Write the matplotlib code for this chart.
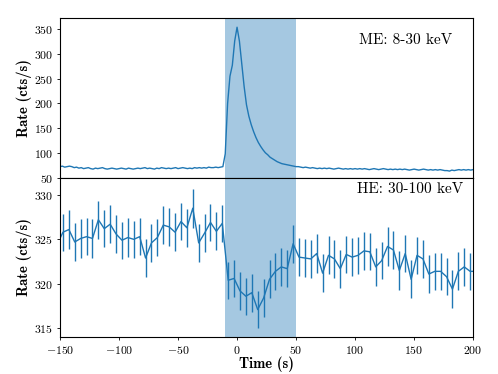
import numpy as np
import matplotlib
matplotlib.use("Agg")
import matplotlib.pyplot as plt

plt.rcParams['font.family'] = 'serif'
plt.rcParams['font.serif'] = ['cmr10']
plt.rcParams['mathtext.fontset'] = 'cm'
plt.rcParams['axes.formatter.use_mathtext'] = True

# ME light curve (8-30 keV), 2 s bins
me_time = np.arange(-150, 201, 2)
me_rate = [72, 73, 71, 72, 73,
           72, 70, 71, 69, 70,
           68, 69, 70, 68, 67,
           69, 68, 69, 70, 68,
           67, 68, 69, 68, 67,
           68, 69, 68, 67, 69,
           68, 67, 68, 69, 68,
           69, 70, 68, 69, 68,
           67, 69, 68, 70, 69,
           68, 69, 68, 69, 70,
           68, 69, 70, 69, 68,
           69, 68, 70, 69, 70,
           69, 70, 69, 71, 70,
           70, 71, 70, 71, 72,
           98, 200, 255, 277, 326,
           354, 326, 280, 234, 197,
           174, 157, 143, 131, 121,
           113, 106, 100, 96, 91,
           88, 85, 82, 80, 78,
           77, 76, 75, 74, 73,
           72, 72, 71, 70, 71,
           70, 69, 70, 69, 68,
           69, 68, 69, 68, 69,
           68, 67, 68, 69, 68,
           67, 68, 67, 68, 67,
           68, 67, 68, 67, 68,
           67, 66, 67, 68, 67,
           66, 67, 68, 67, 66,
           67, 66, 67, 66, 67,
           66, 67, 66, 65, 66,
           67, 66, 65, 66, 67,
           66, 65, 66, 65, 66,
           65, 66, 65, 64, 64,
           63, 65, 64, 65, 66,
           65, 66, 65, 66, 65,
           66]

# HE light curve (30-100 keV), 5 s bins
he_time = np.arange(-152.5, 205, 5)
he_rate = [324.4, 325.8, 326.1, 324.7, 325.1, 325.3, 325.1, 327.2, 326.2, 326.7,
           325.6, 324.9, 325.2, 325.0, 325.3, 322.9, 324.6, 325.2, 326.6, 326.4,
           325.8, 327.0, 326.3, 328.5, 324.6, 325.7, 326.9, 325.9, 326.8, 320.4,
           320.6, 319.2, 318.6, 319.0, 317.1, 318.4, 320.5, 321.4, 321.9, 321.7,
           324.5, 323.0, 322.9, 322.8, 323.4, 321.2, 323.2, 322.8, 321.7, 323.3,
           323.0, 323.2, 323.7, 323.6, 321.9, 322.6, 324.2, 323.8, 321.5, 323.4,
           320.5, 323.2, 322.8, 321.1, 321.4, 321.4, 320.8, 319.4, 321.4, 321.9,
           321.4, 321.4]
he_err = [2.1, 2.1, 2.15, 2.1, 2.15, 2.1, 2.15, 2.15, 2.1, 2.15,
          2.1, 2.1, 2.15, 2.1, 2.1, 2.1, 2.15, 2.1, 2.15, 2.1,
          2.15, 2.1, 2.15, 2.2, 2.1, 2.15, 2.1, 2.15, 2.1, 2.1,
          2.1, 2.1, 2.1, 2.15, 2.1, 2.1, 2.15, 2.1, 2.15, 2.1,
          2.15, 2.1, 2.1, 2.1, 2.15, 2.1, 2.15, 2.1, 2.15, 2.1,
          2.15, 2.1, 2.15, 2.1, 2.15, 2.1, 2.15, 2.1, 2.15, 2.1,
          2.15, 2.1, 2.1, 2.1, 2.1, 2.1, 2.1, 2.1, 2.15, 2.1,
          2.1, 2.1]

span = (-10, 50)

fig, (ax1, ax2) = plt.subplots(2, 1, sharex=True, figsize=(4.98, 3.74), dpi=100)
fig.subplots_adjust(left=0.1205, right=0.95, top=0.951, bottom=0.0997, hspace=0)

ax1.plot(me_time, me_rate, color='C0', lw=1.0)
ax1.axvspan(*span, color='C0', alpha=0.4, lw=0)
ax1.set_ylim(50, 372)
ax1.set_yticks([50, 100, 150, 200, 250, 300, 350])
ax1.text(0.95, 0.905, 'ME: 8-30 keV', transform=ax1.transAxes,
         ha='right', va='top', fontsize=11)
ax1.set_ylabel('Rate (cts/s)', fontfamily='cmb10', fontsize=10.5, labelpad=1.5)
ax1.tick_params(axis='x', bottom=False, labelbottom=False)

ax2.errorbar(he_time, he_rate, yerr=he_err, color='C0', lw=1.0, elinewidth=1.0, capsize=0)
ax2.axvspan(*span, color='C0', alpha=0.4, lw=0)
ax2.set_ylim(314.05, 331.95)
ax2.set_yticks([315, 320, 325, 330])
ax2.set_xlim(-150, 200)
ax2.text(0.975, 0.97, 'HE: 30-100 keV', transform=ax2.transAxes,
         ha='right', va='top', fontsize=11)
ax2.set_ylabel('Rate (cts/s)', fontfamily='cmb10', fontsize=10.5, labelpad=1.5)
ax2.set_xlabel('Time (s)', fontfamily='cmb10', fontsize=10.5)

for ax in (ax1, ax2):
    ax.tick_params(labelsize=8.5, length=2.5, width=0.6, pad=2.5)

fig.align_ylabels([ax1, ax2])
# place the x label where the reference has it (centre ~362 px from top)
ax2.xaxis.set_label_coords(0.5, -0.17, transform=ax2.transAxes)
ax2.xaxis.label.set_va('center')
fig.savefig('out.png', dpi=100)
